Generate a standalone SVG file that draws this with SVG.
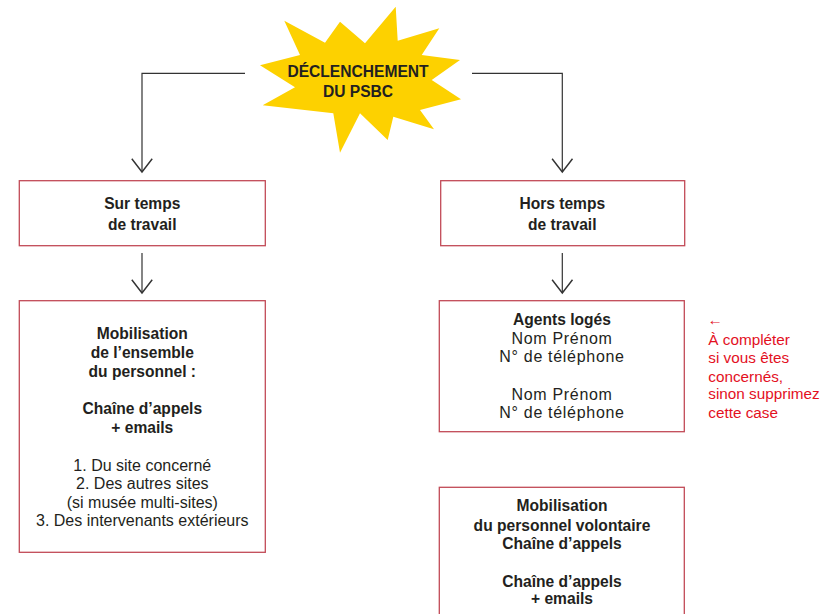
<svg xmlns="http://www.w3.org/2000/svg" width="830" height="614" viewBox="0 0 830 614">
<style>
.box{fill:#fff;stroke:#c24a57;stroke-width:1.3}
.b{font-family:"Liberation Sans",Arial,sans-serif;font-weight:bold;font-size:15.6px;fill:#231f20;text-anchor:middle}
.r{font-family:"Liberation Sans",Arial,sans-serif;font-size:16px;fill:#231f20;text-anchor:middle}
.rs{letter-spacing:0.7px}
.red{font-family:"Liberation Sans",Arial,sans-serif;font-size:15.3px;fill:#e3101e}
.c{fill:none;stroke:#333;stroke-width:1.2}
</style>
<defs>
<marker id="ah" markerUnits="userSpaceOnUse" markerWidth="24" markerHeight="24" refX="0" refY="0" viewBox="-13 -10 15 20" orient="auto">
<path d="M-11,-8.5 L0,0 L-11,8.5" fill="none" stroke="#333" stroke-width="1.2"/>
</marker>
</defs>
<rect width="830" height="614" fill="#fff"/>
<g id="connectors">
<path class="c" d="M245,73.3 H142 V172" marker-end="url(#ah)"/>
<path class="c" d="M472,73.3 H562.3 V172" marker-end="url(#ah)"/>
<path class="c" d="M142,253 V293" marker-end="url(#ah)"/>
<path class="c" d="M562.3,253 V293" marker-end="url(#ah)"/>
</g>
<g id="star">
<polygon fill="#fdd100" points="284.3,20.7 325,42.7 340,21.7 365,43.3 395.7,6.7 397.7,40.7 439.3,28.3 421.7,55 460,60 431.7,80 461,99.3 420,110 434,129.3 393.3,116.7 387.7,140 360,113.3 340,152.7 333.3,113.3 262.7,105.3 295,87.3 260,65.3 300,55"/>
<text class="b" x="358" y="77.3" font-size="15.8px">DÉCLENCHEMENT</text>
<text class="b" x="358" y="96.7" font-size="15.8px">DU PSBC</text>
</g>
<g id="sur-temps">
<rect class="box" x="19.3" y="180.7" width="246" height="65"/>
<text class="b" x="142.3" y="209">Sur temps</text>
<text class="b" x="142.3" y="230">de travail</text>
</g>
<g id="hors-temps">
<rect class="box" x="440.7" y="180.7" width="244" height="65"/>
<text class="b" x="562.3" y="209">Hors temps</text>
<text class="b" x="562.3" y="230">de travail</text>
</g>
<g id="mobilisation-ensemble">
<rect class="box" x="19.3" y="300.7" width="246" height="251.6"/>
<text class="b" x="142.3" y="339">Mobilisation</text>
<text class="b" x="142.3" y="358.3">de l’ensemble</text>
<text class="b" x="142.3" y="377.3">du personnel :</text>
<text class="b" x="142.3" y="414.3">Chaîne d’appels</text>
<text class="b" x="142.3" y="432.7">+ emails</text>
<text class="r" x="142.3" y="470.7">1. Du site concerné</text>
<text class="r" x="142.3" y="489.3">2. Des autres sites</text>
<text class="r" x="142.3" y="507.5">(si musée multi-sites)</text>
<text class="r" x="142.3" y="525.7">3. Des intervenants extérieurs</text>
</g>
<g id="agents-loges">
<rect class="box" x="439.3" y="300.7" width="245" height="131"/>
<text class="b" x="562" y="325">Agents logés</text>
<text class="r rs" x="562" y="344.3">Nom Prénom</text>
<text class="r rs" x="562" y="361.7">N° de téléphone</text>
<text class="r rs" x="562" y="400">Nom Prénom</text>
<text class="r rs" x="562" y="417.7">N° de téléphone</text>
</g>
<g id="note">
<text class="red" x="707.5" y="325" font-size="19px">←</text>
<text class="red" x="708.3" y="345">À compléter</text>
<text class="red" x="708.3" y="363.3">si vous êtes</text>
<text class="red" x="708.3" y="381.7">concernés,</text>
<text class="red" x="708.3" y="399.3">sinon supprimez</text>
<text class="red" x="708.3" y="418.3">cette case</text>
</g>
<g id="mobilisation-volontaire">
<rect class="box" x="439.3" y="487.3" width="245" height="140"/>
<text class="b" x="562" y="511">Mobilisation</text>
<text class="b" x="562" y="531">du personnel volontaire</text>
<text class="b" x="562" y="549">Chaîne d’appels</text>
<text class="b" x="562" y="586.7">Chaîne d’appels</text>
<text class="b" x="562" y="604.3">+ emails</text>
</g>
</svg>
